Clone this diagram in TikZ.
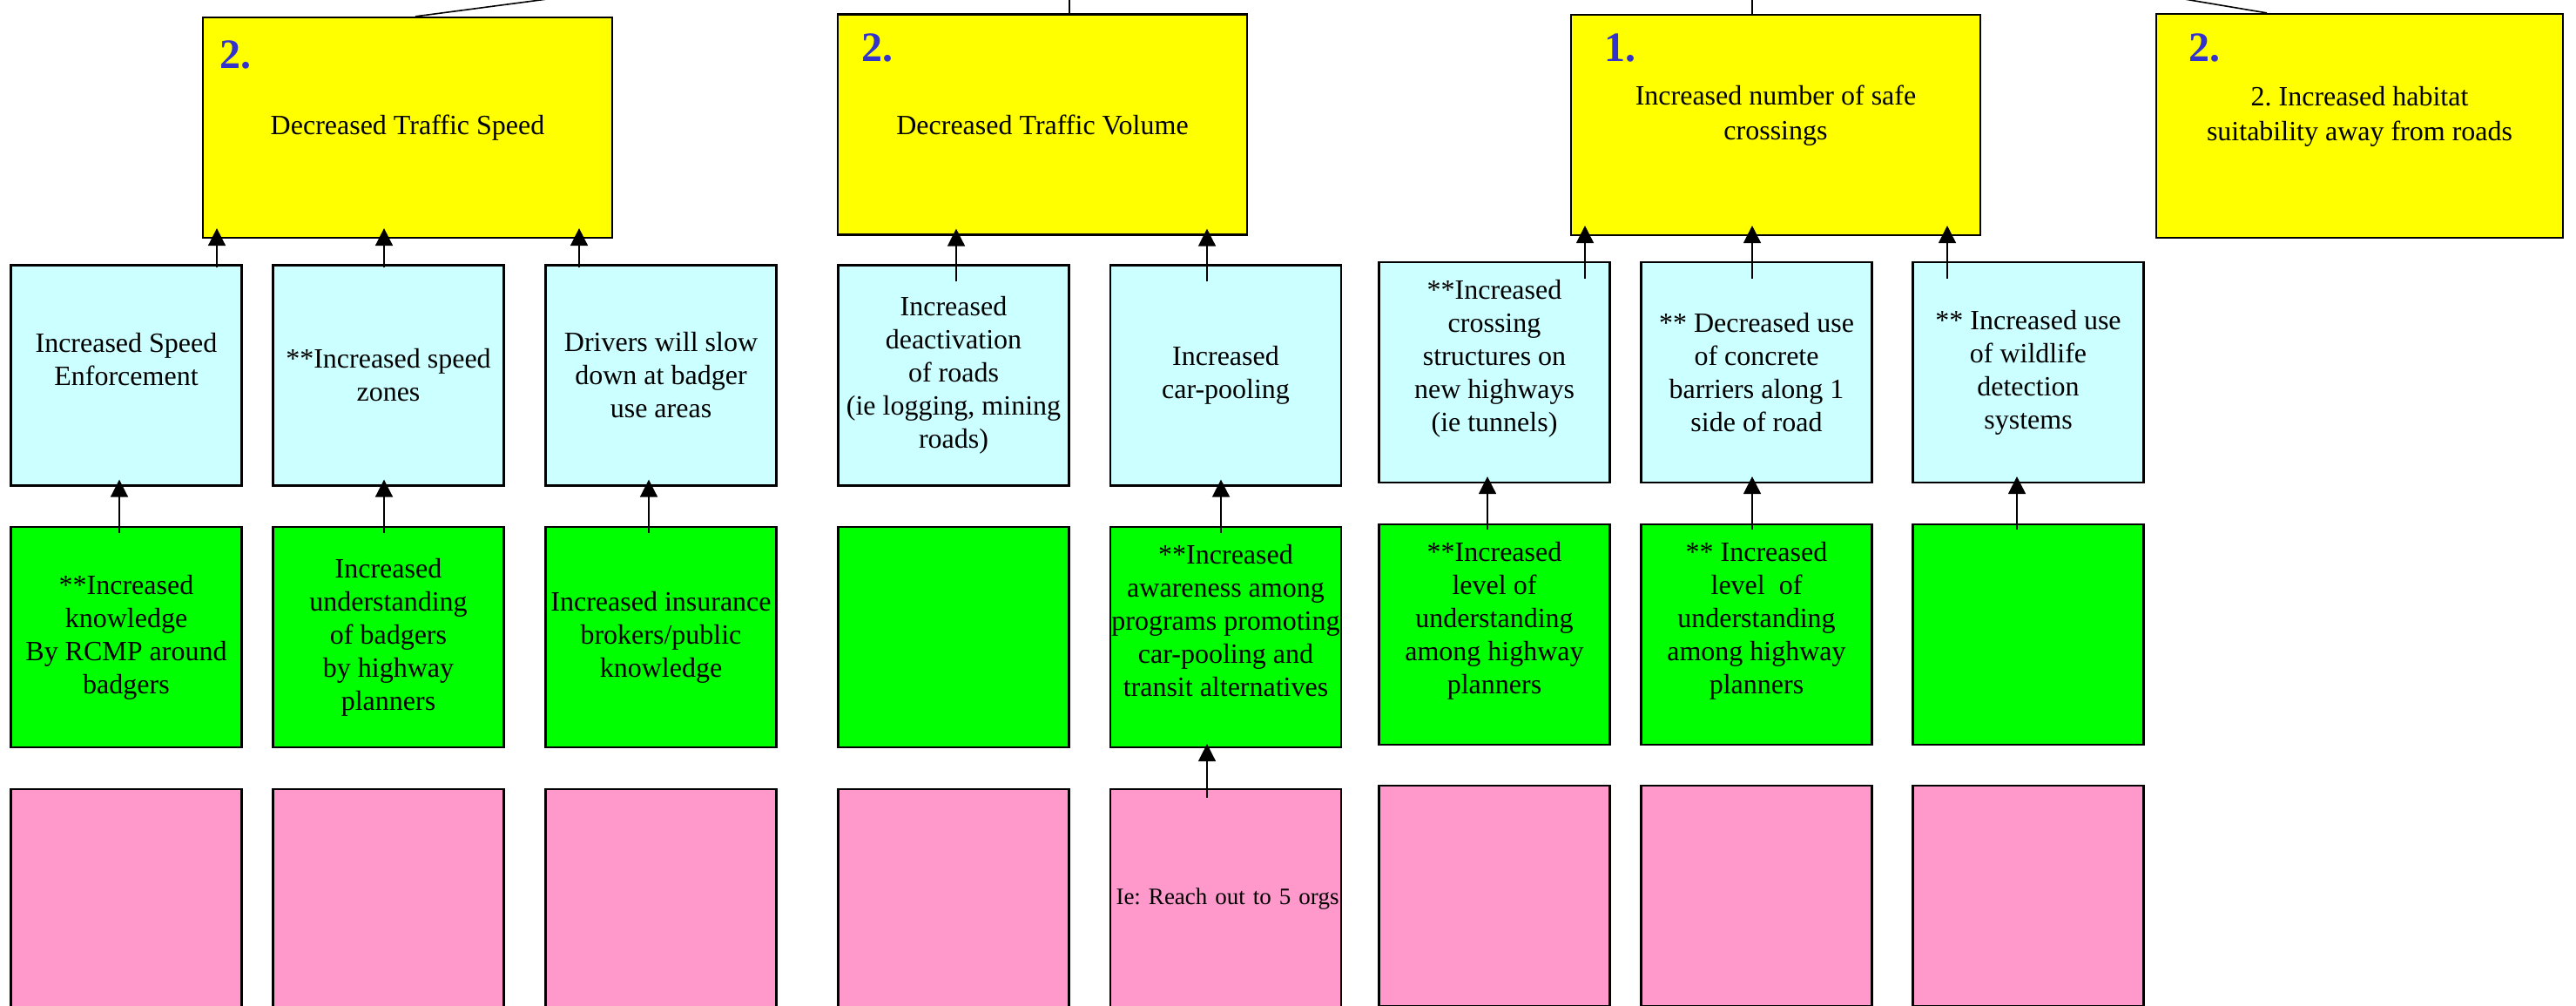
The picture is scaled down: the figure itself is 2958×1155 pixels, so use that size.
\documentclass[tikz,border=0pt]{standalone}
\usepackage{fontspec}
\setmainfont{Liberation Serif}
\usetikzlibrary{arrows.meta}
\frenchspacing

\definecolor{goalyellow}{RGB}{255,255,0}
\definecolor{stratcyan}{RGB}{204,255,255}
\definecolor{actgreen}{RGB}{0,255,0}
\definecolor{taskpink}{RGB}{255,153,204}
\definecolor{rankblue}{RGB}{51,51,204}

\tikzset{
  box/.style={draw=black, line width=1.1pt, inner sep=0pt, align=center,
    font=\fontsize{16pt}{19pt}\selectfont},
  goal/.style={box, fill=goalyellow, minimum width=235pt, minimum height=126.5pt,
    font=\fontsize{16pt}{20pt}\selectfont},
  strat/.style={box, fill=stratcyan, minimum width=132.5pt, minimum height=126.5pt},
  act/.style={box, fill=actgreen, minimum width=132.5pt, minimum height=126.5pt},
  task/.style={box, fill=taskpink, minimum width=132.5pt, minimum height=126.5pt,
    font=\fontsize{13.5pt}{16pt}\selectfont},
  rank/.style={anchor=west, inner sep=0pt, text=rankblue,
    font=\fontsize{24pt}{24pt}\selectfont\bfseries},
  link/.style={line width=0.8pt, -{Triangle[length=10pt,width=10pt]}},
  plain/.style={line width=0.8pt}
}

\begin{document}
\begin{tikzpicture}[x=0.5pt,y=-0.5pt]
\useasboundingbox (0,0) rectangle (2958,1155);
\clip (0,0) rectangle (2958,1155);

% goal row
\node[goal] (Y1) at (468,146.5) {Decreased Traffic Speed};
\node[goal] (Y2) at (1197,143) {Decreased Traffic Volume};
\node[goal] (Y3) at (2039,143.5) {Increased number of safe\\crossings\\[-6pt]\mbox{}};
\node[goal, minimum width=233.5pt, minimum height=128.5pt] (Y4) at (2709.5,144.5)
  {2. Increased habitat\\suitability away from roads\\[-6pt]\mbox{}};

\node[rank] (R1) at (252,63) {2.};
\node[rank] (R2) at (989,55) {2.};
\node[rank] (R3) at (1842,55) {1.};
\node[rank] (R4) at (2513,55) {2.};

% strategy row
\node[strat] (B1) at (145,431) {Increased Speed\\Enforcement\\ \mbox{}};
\node[strat] (B2) at (446,431) {**Increased speed\\zones};
\node[strat] (B3) at (759,431) {Drivers will slow\\down at badger\\use areas};
\node[strat] (B4) at (1095,431) {Increased\\deactivation\\of roads\\(ie logging, mining\\roads)};
\node[strat] (B5) at (1407.5,431) {Increased\\car-pooling};
\node[strat] (B6) at (1716,427.5) {**Increased\\crossing\\structures on\\new highways\\(ie tunnels)\\ \mbox{}};
\node[strat] (B7) at (2017,427.5) {** Decreased use\\of concrete\\barriers along 1\\side of road};
\node[strat] (B8) at (2329,427.5) {** Increased use\\of wildlife\\detection\\systems};

% action row
\node[act] (G1) at (145,731.5) {**Increased\\knowledge\\By RCMP around\\badgers};
\node[act] (G2) at (446,731.5) {Increased\\understanding\\of badgers\\by highway\\planners};
\node[act] (G3) at (759,731.5) {Increased insurance\\brokers/public\\knowledge};
\node[act] (G4) at (1095,731.5) {};
\node[act] (G5) at (1407.5,731.5) {**Increased\\awareness among\\programs promoting\\car-pooling and\\transit alternatives\\ \mbox{}};
\node[act] (G6) at (1716,728.5) {**Increased\\level of\\understanding\\among highway\\planners\\ \mbox{}};
\node[act] (G7) at (2017,728.5) {** Increased\\level\ \ of\\understanding\\among highway\\planners\\ \mbox{}};
\node[act] (G8) at (2329,728.5) {};

% task row
\node[task] (P1) at (145,1032.5) {};
\node[task] (P2) at (446,1032.5) {};
\node[task] (P3) at (759,1032.5) {};
\node[task] (P4) at (1095,1032.5) {};
\node[task, align=left, text width=126pt, inner xsep=3.25pt] (P5) at (1407.5,1032.5)
  {\mbox{Ie: Reach out to 5 orgs}};
\node[task] (P6) at (1716,1028.5) {};
\node[task] (P7) at (2017,1028.5) {};
\node[task] (P8) at (2329,1028.5) {};

% links to the level above (off the top edge)
\coordinate (top1) at (651,-4);
\coordinate (top2) at (1228,-4);
\coordinate (top3) at (2012,-4);
\coordinate (top4) at (2490.5,-4);
\draw[plain] (Y1.north -| 477,0) -- (top1);
\draw[plain] (Y2.north -| 1228,0) -- (top2);
\draw[plain] (Y3.north -| 2012,0) -- (top3);
\draw[plain] (Y4.north -| 2603,0) -- (top4);

% strategies to goals
\draw[link, shorten <=-2pt, shorten >=-6pt] (B1.north -| 249,0) -- (Y1.south -| 249,0);
\draw[link, shorten <=-2pt, shorten >=-6pt] (B2.north -| 441,0) -- (Y1.south -| 441,0);
\draw[link, shorten <=-2pt, shorten >=-6pt] (B3.north -| 665,0) -- (Y1.south -| 665,0);
\draw[link, shorten <=-10pt, shorten >=-4pt] (B4.north -| 1098,0) -- (Y2.south -| 1098,0);
\draw[link, shorten <=-10pt, shorten >=-4pt] (B5.north -| 1386,0) -- (Y2.south -| 1386,0);
\draw[link, shorten <=-10pt, shorten >=-6pt] (B6.north -| 1820,0) -- (Y3.south -| 1820,0);
\draw[link, shorten <=-10pt, shorten >=-6pt] (B7.north -| 2012,0) -- (Y3.south -| 2012,0);
\draw[link, shorten <=-10pt, shorten >=-6pt] (B8.north -| 2236,0) -- (Y3.south -| 2236,0);

% actions to strategies
\draw[link, shorten <=-4pt, shorten >=-4pt] (G1.north -| 137,0) -- (B1.south -| 137,0);
\draw[link, shorten <=-4pt, shorten >=-4pt] (G2.north -| 441,0) -- (B2.south -| 441,0);
\draw[link, shorten <=-4pt, shorten >=-4pt] (G3.north -| 745,0) -- (B3.south -| 745,0);
\draw[link, shorten <=-4pt, shorten >=-4pt] (G5.north -| 1402,0) -- (B5.south -| 1402,0);
\draw[link, shorten <=-3.5pt, shorten >=-4pt] (G6.north -| 1708,0) -- (B6.south -| 1708,0);
\draw[link, shorten <=-3.5pt, shorten >=-4pt] (G7.north -| 2012,0) -- (B7.south -| 2012,0);
\draw[link, shorten <=-3.5pt, shorten >=-4pt] (G8.north -| 2316,0) -- (B8.south -| 2316,0);

% task to action
\draw[link, shorten <=-5.5pt, shorten >=-2.5pt] (P5.north -| 1386,0) -- (G5.south -| 1386,0);
\end{tikzpicture}
\end{document}
